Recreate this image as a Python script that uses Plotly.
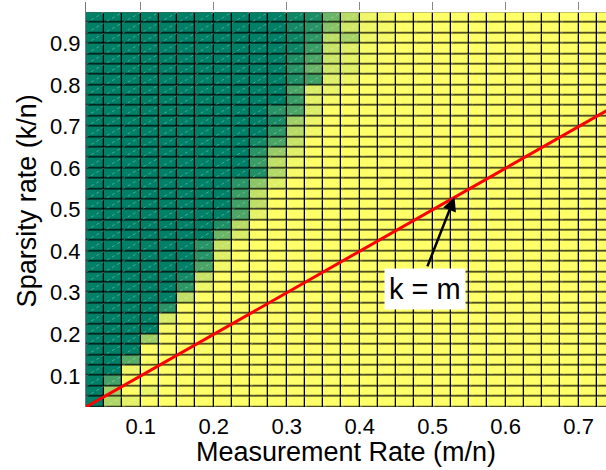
import numpy as np
import plotly.graph_objects as go

# ---- data -------------------------------------------------------------
# grid of measurement rates (m/n) and sparsity rates (k/n): cell edges
m_edges = [round(0.025 + 0.025 * i, 4) for i in range(30)]   # 29 columns
k_edges = [round(0.025 + 0.025 * j, 4) for j in range(39)]   # 38 rows

# per row (top row first): number of leading failure cells (value 0),
# then the transition values; the rest is success (1)
row_start_col = [11, 11, 11, 11, 11, 11, 11, 11, 11, 10, 10, 10, 9, 9, 9, 9,
                 8, 8, 8, 8, 7, 7, 6, 6, 6, 5, 5, 5, 4, 4, 4, 3, 3, 2, 2, 1, 1, 1]
row_transition = [
    [0.05, 0.10, 0.42, 0.72, 0.94, 0.96],
    [0.08, 0.16, 0.53, 0.82, 0.94, 0.96],
    [0.05, 0.18, 0.74, 0.65, 0.94, 0.96],
    [0.05, 0.23, 0.78, 0.88, 0.97],
    [0.12, 0.29, 0.80, 0.90, 0.97],
    [0.16, 0.41, 0.82, 0.88, 0.97],
    [0.12, 0.25, 0.88, 0.94],
    [0.29, 0.86, 0.92],
    [0.23, 0.90, 0.97],
    [0.16, 0.30, 0.86],
    [0.10, 0.63, 0.92],
    [0.18, 0.72, 0.94],
    [0.08, 0.29, 0.78],
    [0.16, 0.60, 0.88],
    [0.23, 0.75, 0.95],
    [0.12, 0.70, 0.97],
    [0.16, 0.55, 0.88],
    [0.23, 0.76],
    [0.25, 0.75],
    [0.30, 0.90],
    [0.12, 0.72],
    [0.42, 0.86],
    [0.16, 0.78],
    [0.16, 0.88],
    [0.29, 0.95],
    [0.08, 0.78],
    [0.18, 0.93],
    [0.75],
    [0.16],
    [0.85],
    [0.97],
    [0.62],
    [1.0],
    [0.35],
    [0.94],
    [0.27],
    [0.63, 1.0, 0.93],
    [0.68, 0.90],
]

x_ticks = [0.1, 0.2, 0.3, 0.4, 0.5, 0.6, 0.7]
x_tick_labels = ["0.1", "0.2", "0.3", "0.4", "0.5", "0.6", "0.7"]
y_ticks = [0.1, 0.2, 0.3, 0.4, 0.5, 0.6, 0.7, 0.8, 0.9]
y_tick_labels = ["0.1", "0.2", "0.3", "0.4", "0.5", "0.6", "0.7", "0.8", "0.9"]

x_title = "Measurement Rate (m/n)"
y_title = "Sparsity rate (k/n)"

line_km = [0.025, 0.75]          # k = m reference line
annot_point = 0.53               # arrow target on k = m
annot_tail = (0.492, 0.36)
annot_text_pos = (0.489, 0.309)

# ---- build matrix -----------------------------------------------------
ncols = len(m_edges) - 1
rows_top_down = []
for start, trans in zip(row_start_col, row_transition):
    r = [0.0] * start + list(trans)
    r += [1.0] * (ncols - len(r))
    rows_top_down.append(r[:ncols])
z = rows_top_down[::-1]   # bottom row first

FONT = "Liberation Sans, Arial, Helvetica, sans-serif"
summer = [[0.0, "rgb(0,128,102)"], [1.0, "rgb(255,255,102)"]]

fig = go.Figure()

# black backing so the cell gaps look like black edges
fig.add_trace(go.Heatmap(
    x=[m_edges[0], m_edges[-1]], y=[k_edges[0], k_edges[-1]], z=[[0]],
    colorscale=[[0, "black"], [1, "black"]], showscale=False, hoverinfo="skip"))

fig.add_trace(go.Heatmap(
    x=m_edges, y=k_edges, z=z, zmin=0, zmax=1, colorscale=summer,
    showscale=False, xgap=1.3, ygap=1.3))

# faint triangle diagonals inside every cell (slope-1 lines through cell corners)
x0, x1 = m_edges[0], m_edges[-1]
y0, y1 = k_edges[0], k_edges[-1]
dx, dy = [], []
for k in range(-ncols, len(k_edges)):
    c = k * 0.025
    xs = max(x0, y0 - c)
    xe = min(x1, y1 - c)
    if xe - xs > 1e-9:
        dx += [xs, xe, None]
        dy += [xs + c, xe + c, None]
fig.add_trace(go.Scatter(x=dx, y=dy, mode="lines", hoverinfo="skip",
                         line=dict(color="rgba(255,255,255,0.3)", width=1, dash="dot"),
                         showlegend=False))

fig.add_trace(go.Scatter(x=line_km, y=line_km, mode="lines",
                         line=dict(color="rgb(255,0,0)", width=3), showlegend=False))

fig.add_annotation(x=annot_point, y=annot_point, ax=annot_tail[0], ay=annot_tail[1],
                   xref="x", yref="y", axref="x", ayref="y", text="",
                   showarrow=True, arrowhead=2, arrowsize=1.1, arrowwidth=2.5,
                   arrowcolor="black", standoff=0)
fig.add_annotation(x=annot_text_pos[0], y=annot_text_pos[1], xref="x", yref="y",
                   text="k = m", showarrow=False, bgcolor="white", borderpad=4,
                   font=dict(family=FONT, size=29, color="black"))

# axis titles placed as annotations for exact positioning
fig.add_annotation(x=0, y=0.52, xref="paper", yref="y", text=y_title, textangle=-90,
                   showarrow=False, xanchor="center", yanchor="middle", xshift=-59,
                   font=dict(family=FONT, size=27, color="black"))
fig.add_annotation(x=0.5, y=0, xref="paper", yref="paper", text=x_title,
                   showarrow=False, xanchor="center", yanchor="middle", yshift=-45,
                   font=dict(family=FONT, size=27, color="black"))

fig.update_layout(
    width=606, height=470,
    margin=dict(l=86, r=0, t=2, b=63),
    paper_bgcolor="white", plot_bgcolor="white",
    font=dict(family=FONT, color="black"),
    showlegend=False,
)
fig.update_xaxes(
    range=[0.025, 0.7375], tickvals=x_ticks, ticktext=x_tick_labels,
    ticks="inside", ticklen=8, tickcolor="#888", tickwidth=1,
    showline=True, linecolor="rgba(0,0,0,0)", mirror="ticks",
    showgrid=False, zeroline=False, layer="below traces", automargin=False,
    tickfont=dict(family=FONT, size=22, color="black"), ticklabelstandoff=0,
)
fig.update_yaxes(
    range=[0.025, 1.0], tickvals=y_ticks, ticktext=y_tick_labels,
    ticks="", showline=True, linecolor="#777", linewidth=1,
    showgrid=False, zeroline=False, layer="below traces", automargin=False,
    tickfont=dict(family=FONT, size=22, color="black"), ticklabelstandoff=0,
)

fig.write_html(
    "out.html",
    config={"displayModeBar": False},
    post_script="document.body.style.margin='0';document.body.style.overflow='hidden';",
)
